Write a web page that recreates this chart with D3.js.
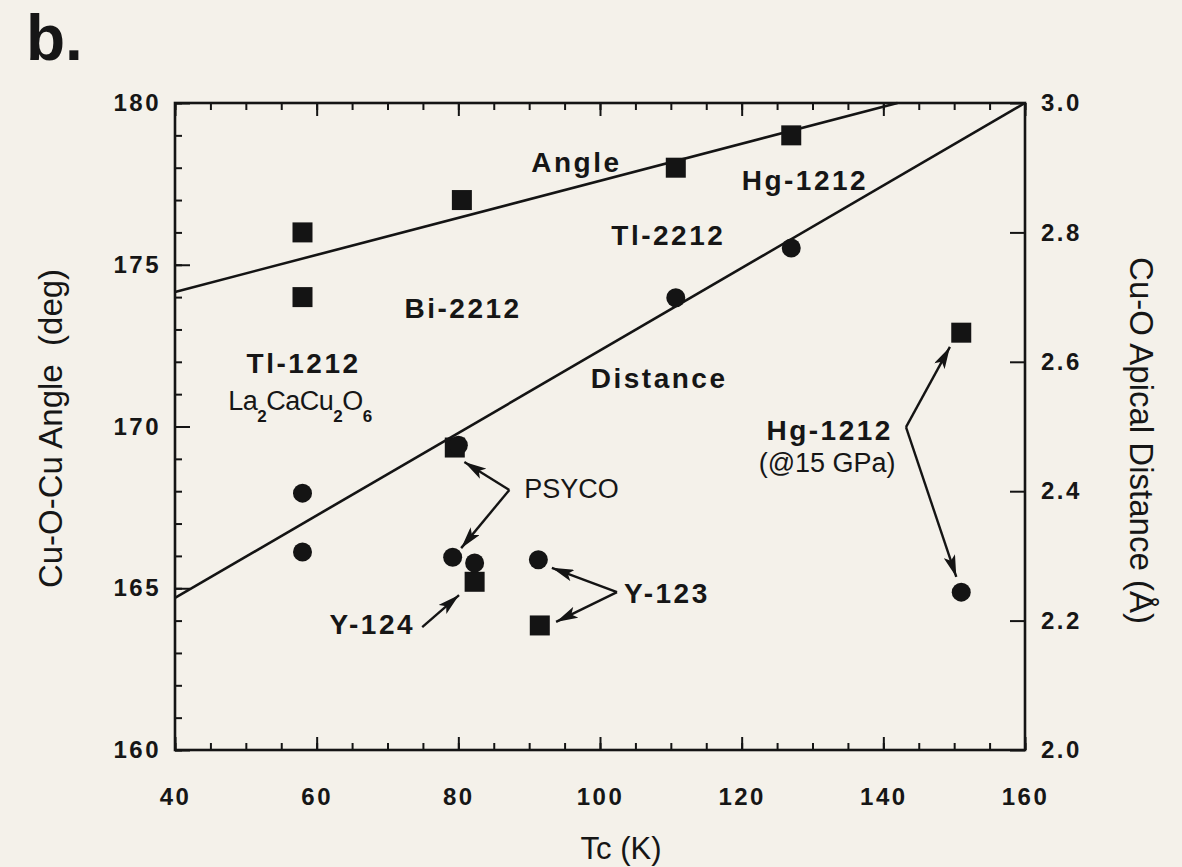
<!DOCTYPE html>
<html>
<head>
<meta charset="utf-8">
<script src="https://cdn.jsdelivr.net/npm/d3@7"></script>
<style>
  html, body { margin: 0; padding: 0; background: #f4f1ea; }
  svg { display: block; }
  text { font-family: "Liberation Sans", Arial, Helvetica, sans-serif; fill: #161616; }
</style>
</head>
<body>
<svg id="chart" width="1182" height="867"></svg>
<script>
// Cu-O-Cu buckling angle (squares, left axis) and Cu-O apical distance
// (circles, right axis) against Tc for several cuprate families.

// Angle points: [Tc (K), angle (deg)]
const angleTc    = [58, 58, 80.5, 110.7, 127, 151, 91.5, 79.5, 82.3];
const angleDeg   = [176, 174, 177, 178, 179, 172.9, 163.85, 169.35, 165.2];

// Apical distance points: [Tc (K), distance (Å)]
const distTc     = [58, 58, 80, 79.2, 82.3, 91.3, 110.7, 127, 151];
const distA      = [2.397, 2.306, 2.471, 2.298, 2.289, 2.294, 2.699, 2.776, 2.244];

// Straight trend lines, given by their end points
const angleLineTc  = [40, 142];
const angleLineDeg = [174.16, 180];
const distLineTc   = [40, 160];
const distLineA    = [2.235, 3.0];

// Axis ticks
const xMajor  = [40, 60, 80, 100, 120, 140, 160];
const yAMajor = [160, 165, 170, 175, 180];
const yDMajor = [2.0, 2.2, 2.4, 2.6, 2.8, 3.0];

// Text annotations placed in (Tc, angle) coordinates
const labels = [
  { t: "Angle",     tc: 90.3,  a: 177.87 },
  { t: "Hg-1212",   tc: 120.0, a: 177.31 },
  { t: "Tl-2212",   tc: 101.6, a: 175.61 },
  { t: "Bi-2212",   tc: 72.4,  a: 173.35 },
  { t: "Tl-1212",   tc: 50.1,  a: 171.65 },
  { t: "Distance",  tc: 98.7,  a: 171.19 },
  { t: "Hg-1212",   tc: 123.5, a: 169.58 },
  { t: "(@15 GPa)", tc: 122.4, a: 168.59, narrow: true },
  { t: "PSYCO",     tc: 89.3,  a: 167.79, narrow: true },
  { t: "Y-123",     tc: 103.4, a: 164.54 },
  { t: "Y-124",     tc: 61.8,  a: 163.59 }
];

// Arrows in (Tc, angle) coordinates: from -> to
const arrows = [
  { x1: 143.2, y1: 169.98, x2: 149.4, y2: 172.46 },
  { x1: 143.2, y1: 169.98, x2: 150.3, y2: 165.35 },
  { x1: 87.2,  y1: 168.04, x2: 80.85, y2: 168.90 },
  { x1: 87.2,  y1: 168.04, x2: 80.4,  y2: 166.24 },
  { x1: 102.4, y1: 164.88, x2: 93.2,  y2: 165.63 },
  { x1: 102.4, y1: 164.88, x2: 93.8,  y2: 163.96 },
  { x1: 74.9,  y1: 163.80, x2: 80.1,  y2: 164.79 }
];

const svg = d3.select("#chart");
const pL = 175, pR = 1025, pT = 103, pB = 750;

const x  = d3.scaleLinear().domain([40, 160]).range([pL, pR]);
const yA = d3.scaleLinear().domain([160, 180]).range([pB, pT]);
const yD = d3.scaleLinear().domain([2, 3]).range([pB, pT]);

const ink = "#141414";

// panel letter
svg.append("text").attr("x", 26).attr("y", 60)
  .attr("font-size", 64).attr("font-weight", "bold").text("b.");

// ---- axes ----
function styleAxis(g) {
  g.select(".domain").remove();
  g.selectAll(".tick line").attr("stroke", ink).attr("stroke-width", 2);
  g.selectAll(".tick text")
    .attr("font-size", 24).attr("font-weight", "bold")
    .attr("letter-spacing", 2.5).attr("fill", "#1c1c1c")
    .attr("font-family", "\"Liberation Sans\", Arial, sans-serif");
}

const xMinor = d3.range(40, 161, 5);
const yAMinor = d3.range(160, 181, 1);

svg.append("g").attr("transform", `translate(0,${pB})`)
  .call(d3.axisBottom(x).tickValues(xMinor).tickSize(-7).tickFormat(""))
  .call(styleAxis);
svg.append("g").attr("transform", `translate(0,${pB})`)
  .call(d3.axisBottom(x).tickValues(xMajor).tickSize(-13).tickPadding(38).tickFormat(d3.format("d")))
  .call(styleAxis);
svg.append("g").attr("transform", `translate(0,${pT})`)
  .call(d3.axisTop(x).tickValues(xMinor).tickSize(-7).tickFormat(""))
  .call(styleAxis);
svg.append("g").attr("transform", `translate(0,${pT})`)
  .call(d3.axisTop(x).tickValues(xMajor).tickSize(-13).tickFormat(""))
  .call(styleAxis);

svg.append("g").attr("transform", `translate(${pL},0)`)
  .call(d3.axisLeft(yA).tickValues(yAMinor).tickSize(-7).tickFormat(""))
  .call(styleAxis);
svg.append("g").attr("transform", `translate(${pL},0)`)
  .call(d3.axisLeft(yA).tickValues(yAMajor).tickSize(-15).tickPadding(14).tickFormat(d3.format("d")))
  .call(styleAxis);

svg.append("g").attr("transform", `translate(${pR},0)`)
  .call(d3.axisRight(yD).tickValues(yDMajor).tickSize(-15).tickPadding(16).tickFormat(d3.format(".1f")))
  .call(styleAxis);

// frame
svg.append("rect").attr("x", pL).attr("y", pT)
  .attr("width", pR - pL).attr("height", pB - pT)
  .attr("fill", "none").attr("stroke", ink).attr("stroke-width", 2.6);

// axis titles
svg.append("text")
  .attr("transform", `translate(${(pL + pR) / 2 + 21},859) `)
  .attr("text-anchor", "middle").attr("font-size", 31).text("Tc (K)");

svg.append("text")
  .attr("transform", `translate(62,${(pT + pB) / 2 + 2}) rotate(-90)`)
  .attr("text-anchor", "middle").attr("font-size", 33).attr("xml:space", "preserve")
  .text("Cu-O-Cu Angle  (deg)");

svg.append("text")
  .attr("transform", `translate(1130,${(pT + pB) / 2 + 14}) rotate(90)`)
  .attr("text-anchor", "middle").attr("font-size", 33)
  .text("Cu-O Apical Distance (Å)");

// ---- trend lines ----
const plot = svg.append("g");
const lineA = d3.line().x(d => x(d[0])).y(d => yA(d[1]));
const lineD = d3.line().x(d => x(d[0])).y(d => yD(d[1]));

plot.append("path").datum(d3.zip(angleLineTc, angleLineDeg))
  .attr("d", lineA).attr("fill", "none").attr("stroke", ink).attr("stroke-width", 2.6);
plot.append("path").datum(d3.zip(distLineTc, distLineA))
  .attr("d", lineD).attr("fill", "none").attr("stroke", ink).attr("stroke-width", 2.6);

// ---- markers ----
const sq = 20;
plot.selectAll("rect.ang").data(d3.zip(angleTc, angleDeg)).join("rect")
  .attr("class", "ang")
  .attr("x", d => x(d[0]) - sq / 2).attr("y", d => yA(d[1]) - sq / 2)
  .attr("width", sq).attr("height", sq).attr("fill", ink);

plot.selectAll("circle.dist").data(d3.zip(distTc, distA)).join("circle")
  .attr("class", "dist")
  .attr("cx", d => x(d[0])).attr("cy", d => yD(d[1]))
  .attr("r", 9.5).attr("fill", ink);

// ---- arrows ----
const defs = svg.append("defs");
defs.append("marker").attr("id", "head")
  .attr("viewBox", "0 0 22 12").attr("refX", 22).attr("refY", 6)
  .attr("markerWidth", 22).attr("markerHeight", 12)
  .attr("markerUnits", "userSpaceOnUse").attr("orient", "auto")
  .append("path").attr("d", "M0,0 L22,6 L0,12 L5,6 Z").attr("fill", ink);

plot.selectAll("line.arrow").data(arrows).join("line")
  .attr("class", "arrow")
  .attr("x1", d => x(d.x1)).attr("y1", d => yA(d.y1))
  .attr("x2", d => x(d.x2)).attr("y2", d => yA(d.y2))
  .attr("stroke", ink).attr("stroke-width", 2.4)
  .attr("marker-end", "url(#head)");

// ---- annotations ----
plot.selectAll("text.lab").data(labels).join("text")
  .attr("class", "lab")
  .attr("x", d => x(d.tc)).attr("y", d => yA(d.a))
  .attr("font-size", d => d.narrow ? 27 : 28)
  .attr("font-weight", d => d.narrow ? "normal" : "bold")
  .attr("letter-spacing", d => d.narrow ? 0 : 2.5)
  .text(d => d.t);

// La2CaCu2O6 with subscripts
const la = plot.append("text")
  .attr("x", x(47.5)).attr("y", yA(170.51))
  .attr("font-size", 27).attr("letter-spacing", -0.5);
const parts = [["La", false], ["2", true], ["CaCu", false], ["2", true], ["O", false], ["6", true]];
parts.forEach(([s, sub]) => {
  la.append("tspan")
    .attr("font-size", sub ? 17 : 27)
    .attr("font-weight", sub ? "bold" : "normal")
    .attr("dy", sub ? 12 : -12 * (s === "La" ? 0 : 1))
    .text(s);
});
</script>
</body>
</html>
